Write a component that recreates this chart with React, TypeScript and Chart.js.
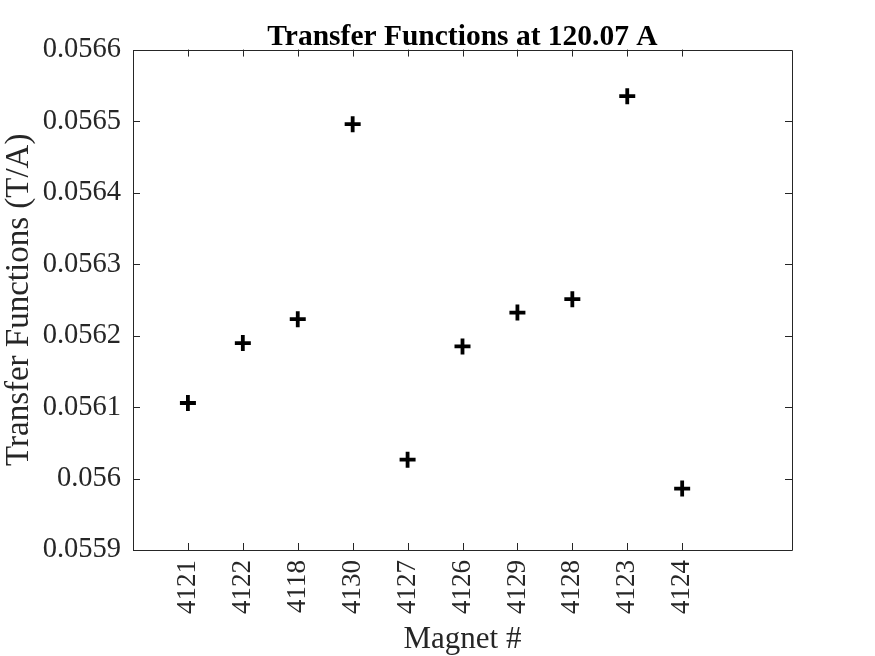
import React, { useEffect, useRef } from "react";
import { Chart, registerables } from "chart.js";

Chart.register(...registerables);

const magnets: string[] = ["4121", "4122", "4118", "4130", "4127", "4126", "4129", "4128", "4123", "4124"];
const transferValues: number[] = [0.0561056, 0.0561894, 0.0562229, 0.0564957, 0.0560264, 0.0561847, 0.0562321, 0.0562509, 0.0565348, 0.0559859];
const yTicks: number[] = [0.0559, 0.056, 0.0561, 0.0562, 0.0563, 0.0564, 0.0565, 0.0566];

const AXIS_COLOR = "#262626";
const FONT = "'Liberation Serif', 'Times New Roman', serif";

const boxTicksPlugin = {
  id: "boxTicks",
  afterDraw(chart: any) {
    const { ctx, chartArea } = chart;
    const { left, right, top, bottom } = chartArea;
    const xs = chart.scales.x;
    const ys = chart.scales.y;
    const len = 7;
    ctx.save();
    ctx.strokeStyle = AXIS_COLOR;
    ctx.lineWidth = 1;
    ctx.beginPath();
    ctx.rect(Math.round(left) + 0.5, Math.round(top) + 0.5, Math.round(right - left), Math.round(bottom - top));
    xs.ticks.forEach((t: any) => {
      const px = Math.round(xs.getPixelForValue(t.value)) + 0.5;
      ctx.moveTo(px, bottom);
      ctx.lineTo(px, bottom - len);
      ctx.moveTo(px, top);
      ctx.lineTo(px, top + len);
    });
    ys.ticks.forEach((t: any) => {
      const py = Math.round(ys.getPixelForValue(t.value)) + 0.5;
      ctx.moveTo(left, py);
      ctx.lineTo(left + len, py);
      ctx.moveTo(right, py);
      ctx.lineTo(right - len, py);
    });
    ctx.stroke();
    ctx.restore();
  },
};

export default function App() {
  const ref = useRef<HTMLCanvasElement | null>(null);
  useEffect(() => {
    if (!ref.current) return;
    const chart = new Chart(ref.current, {
      type: "scatter",
      data: {
        datasets: [
          {
            label: "Transfer Functions",
            data: transferValues.map((v, i) => ({ x: i + 1, y: v })),
            pointStyle: "cross",
            pointRadius: 8,
            pointHoverRadius: 8,
            borderWidth: 3.8,
            borderColor: "#000000",
            backgroundColor: "#000000",
          },
        ],
      },
      plugins: [boxTicksPlugin],
      options: {
        responsive: false,
        animation: false,
        layout: { padding: { left: 0, right: 83, top: 0, bottom: 0 } },
        plugins: {
          legend: { display: false },
          tooltip: { enabled: false },
          title: {
            display: true,
            text: "Transfer Functions at 120.07 A",
            fullSize: false,
            color: "#000000",
            font: { family: FONT, size: 29.5, weight: "bold", lineHeight: 0.85 },
            padding: { top: 24.5, bottom: 0 },
          },
        },
        scales: {
          x: {
            type: "linear",
            min: 0,
            max: magnets.length + 2,
            afterBuildTicks: (scale: any) => {
              scale.ticks = magnets.map((_, i) => ({ value: i + 1 }));
            },
            afterFit: (scale: any) => {
              scale.height = 106;
            },
            grid: { display: false, drawTicks: false },
            border: { display: false },
            ticks: {
              autoSkip: false,
              minRotation: 90,
              maxRotation: 90,
              padding: 10,
              color: AXIS_COLOR,
              font: { family: FONT, size: 27 },
              callback: (v: any) => magnets[Math.round(Number(v)) - 1] ?? "",
            },
            title: {
              display: true,
              text: "Magnet #",
              color: AXIS_COLOR,
              font: { family: FONT, size: 31, lineHeight: 1 },
              padding: { top: 0, bottom: 1 },
            },
          },
          y: {
            type: "linear",
            min: yTicks[0],
            max: yTicks[yTicks.length - 1],
            afterBuildTicks: (scale: any) => {
              scale.ticks = yTicks.map((v) => ({ value: v }));
            },
            afterFit: (scale: any) => {
              scale.width = 133;
            },
            grid: { display: false, drawTicks: false },
            border: { display: false },
            ticks: {
              padding: 12,
              color: AXIS_COLOR,
              font: { family: FONT, size: 28.5 },
              callback: (v: any) => String(parseFloat(Number(v).toFixed(4))),
            },
            title: {
              display: true,
              text: "Transfer Functions (T/A)",
              color: AXIS_COLOR,
              font: { family: FONT, size: 33, lineHeight: 1 },
              padding: { top: 2.5, bottom: 0 },
            },
          },
        },
      },
    } as any);
    return () => chart.destroy();
  }, []);
  return (
    <div style={{ position: "fixed", left: 0, top: 0, width: 875, height: 656, background: "#ffffff" }}>
      <canvas ref={ref} width={875} height={656} style={{ width: 875, height: 656, display: "block" }} />
    </div>
  );
}
